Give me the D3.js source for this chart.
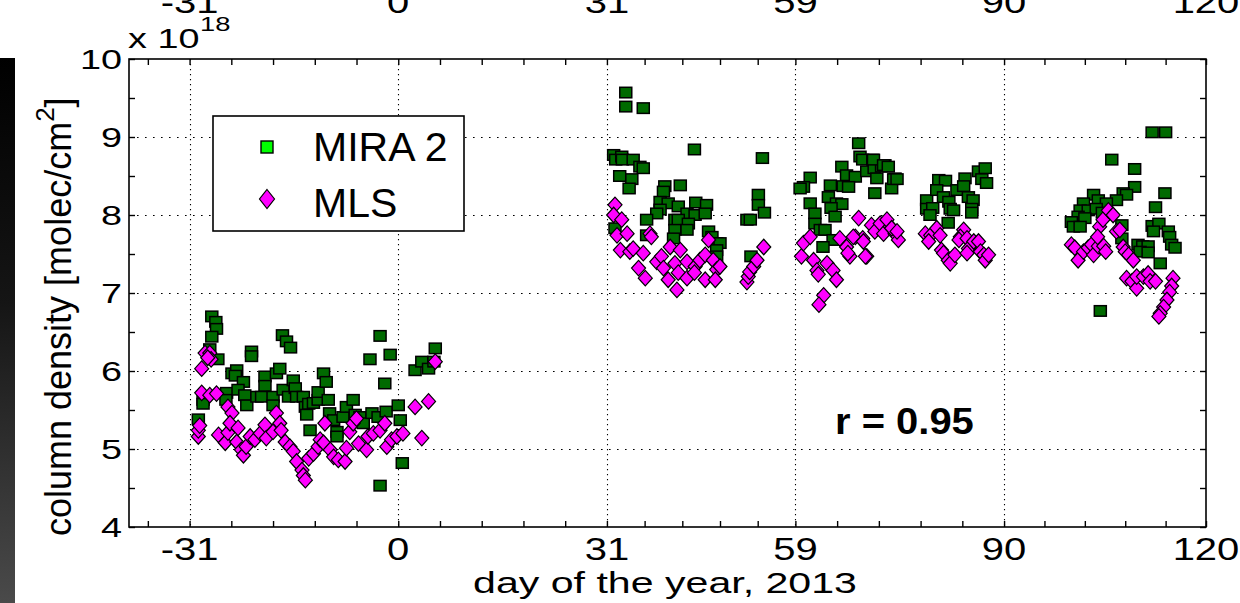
<!DOCTYPE html>
<html>
<head>
<meta charset="utf-8">
<script src="https://cdn.jsdelivr.net/npm/d3@7"></script>
<style>
  body { margin: 0; background: #fff; }
  svg { display: block; }
  text { font-family: "Liberation Sans", Arial, Helvetica, sans-serif; fill: #000; }
</style>
</head>
<body>
<svg id="chart" width="1240" height="603"></svg>
<script>
// ---- tick values ----
const majorDays = [-31, 0, 31, 59, 90, 120];
const minorDays = [-37.2, -24.8, -18.6, -12.4, -6.2, 6.2, 12.4, 18.6, 24.8,
                   36.6, 42.2, 47.8, 53.4, 65.2, 71.4, 77.6, 83.8, 96, 102, 108, 114];
const yMajor = [4, 5, 6, 7, 8, 9, 10];
const yMinor = [4.5, 5.5, 6.5, 7.5, 8.5, 9.5];
const gridDays = [-31, 0, 31, 59, 90];
const gridVals = [5, 6, 7, 8, 9];
const seriesNames = ["MIRA 2", "MLS"];
const correlationText = "r = 0.95";

// ---- column density (x 10^18 molec/cm^2) by day of year ----
const miraPoints = [
  [-29.7,5.38],[-27.7,6.70],[-27.1,6.63],[-27.0,6.54],[-27.7,6.44],[-28.0,6.28],[-26.8,6.15],[-29.0,5.63],
  [-29.0,5.58],[-25.5,5.72],[-25.6,5.63],[-24.7,5.97],[-24.0,6.01],[-24.2,5.94],[-23.0,5.86],[-23.8,5.76],
  [-22.8,5.69],[-22.5,5.56],[-21.8,6.25],[-21.8,6.19],[-21.0,5.67],[-20.3,5.67],[-19.8,5.93],[-19.8,5.81],
  [-18.6,5.67],[-18.6,5.56],[-18.1,5.97],[-17.6,6.03],[-17.2,6.46],[-16.6,6.38],[-16.0,6.30],[-17.1,5.76],
  [-16.3,5.67],[-15.6,5.88],[-15.3,5.78],[-15.1,5.67],[-14.1,5.67],[-13.8,5.54],[-13.6,5.44],[-13.1,5.24],
  [-13.3,5.58],[-12.6,5.59],[-11.9,5.63],[-11.9,5.73],[-11.1,5.97],[-10.7,5.86],[-10.4,5.63],[-10.2,5.46],
  [-9.6,5.37],[-9.1,5.22],[-9.1,5.16],[-8.2,5.41],[-7.7,5.54],[-6.7,5.63],[-6.4,5.44],[-5.7,5.41],
  [-5.2,5.33],[-4.2,6.15],[-3.9,5.46],[-2.7,6.45],[-3.0,5.41],[-2.0,5.84],[-1.8,5.48],[-1.2,6.21],
  [-2.7,4.53],[0.0,5.56],[0.3,5.37],[0.6,4.82],[2.5,6.01],[3.5,6.12],[4.5,6.03],[5.5,6.29],[5.3,6.12],
  [33.8,9.57],[33.8,9.39],[36.4,9.37],[32.0,8.77],[32.3,8.71],[33.2,8.75],[33.3,8.71],[34.9,8.71],
  [35.9,8.62],[36.4,8.60],[32.9,8.50],[34.7,8.46],[34.3,8.34],[32.2,7.83],[44.0,8.84],[54.1,8.73],
  [39.6,8.37],[41.9,8.38],[39.4,8.30],[38.9,8.17],[40.1,8.15],[38.9,8.07],[38.4,8.02],[41.6,8.11],
  [44.2,8.16],[45.8,8.13],[42.9,8.02],[44.1,8.00],[45.6,8.02],[36.9,7.94],[41.1,7.94],[41.6,7.94],
  [43.1,7.89],[41.1,7.81],[42.9,7.81],[36.9,7.74],[40.9,7.70],[46.1,7.79],[46.6,7.72],[47.3,7.64],
  [47.8,7.64],[47.3,7.55],[47.3,7.47],[51.8,7.94],[52.3,7.94],[53.5,8.26],[53.5,8.13],[54.4,8.03],[52.4,7.47],
  [68.4,8.92],[68.6,8.75],[69.0,8.71],[70.5,8.71],[65.9,8.62],[66.6,8.51],[67.9,8.49],[69.6,8.56],
  [70.7,8.60],[71.8,8.62],[72.3,8.64],[71.1,8.47],[73.8,8.47],[73.3,8.34],[70.8,8.28],[61.2,8.48],
  [60.2,8.36],[59.7,8.34],[64.2,8.38],[66.1,8.37],[66.9,8.36],[61.2,8.15],[63.9,8.23],[65.1,8.15],
  [65.9,8.14],[61.9,8.02],[64.3,8.09],[64.9,7.98],[61.9,7.89],[62.7,7.81],[63.4,7.81],[64.6,7.68],
  [63.1,7.59],[70.6,8.71],[72.1,8.64],[72.8,8.62],[73.6,8.46],[74.1,8.46],
  [78.5,8.19],[78.5,8.08],[79.4,8.09],[79.0,8.00],[80.3,8.45],[81.3,8.44],[80.0,8.32],[81.0,8.23],
  [81.8,8.17],[82.0,8.08],[82.5,8.06],[81.7,7.90],[83.0,8.32],[84.2,8.47],[84.0,8.37],[84.7,8.23],
  [85.4,8.19],[85.2,8.08],[85.2,8.03],[86.2,8.56],[87.2,8.60],[86.7,8.46],[87.4,8.41],
  [112.0,9.06],[114.0,9.06],[106.0,8.71],[109.4,8.59],[109.4,8.36],[113.9,8.28],[107.7,8.28],[108.2,8.26],
  [106.7,8.19],[103.3,8.26],[104.0,8.19],[105.2,8.15],[101.8,8.15],[101.3,8.06],[102.5,8.06],[103.7,8.08],
  [104.6,8.03],[101.0,7.98],[102.0,7.96],[100.0,7.91],[100.3,7.85],[101.3,7.85],[107.5,7.87],[107.5,7.70],
  [112.5,8.10],[112.0,7.86],[113.0,7.89],[112.2,7.79],[114.4,7.79],[114.6,7.72],[114.9,7.62],[115.4,7.58],
  [109.9,7.62],[110.6,7.60],[111.4,7.60],[110.2,7.53],[111.4,7.52],[113.2,7.38],[104.3,6.77]
];

const mlsPoints = [
  [-29.7,5.16],[-29.7,5.24],[-29.5,5.30],[-29.2,6.03],[-28.7,6.23],[-28.0,6.23],[-27.8,6.15],[-28.3,6.17],
  [-29.2,5.72],[-28.0,5.69],[-27.0,5.71],[-26.7,5.18],[-25.7,5.08],[-25.3,5.21],[-25.3,5.54],[-24.7,5.46],
  [-25.0,5.33],[-24.0,5.09],[-23.8,5.27],[-23.3,4.99],[-23.0,4.92],[-22.6,5.03],[-22.0,5.16],[-21.3,5.12],
  [-20.5,5.20],[-19.8,5.31],[-19.6,5.14],[-18.6,5.22],[-18.1,5.46],[-17.6,5.33],[-17.4,5.24],[-16.8,5.09],
  [-16.1,5.03],[-15.6,4.97],[-15.1,4.84],[-14.3,4.73],[-14.1,4.66],[-13.8,4.60],[-13.3,4.88],[-12.6,4.94],
  [-11.9,5.03],[-11.6,5.12],[-11.1,5.08],[-10.9,5.33],[-10.1,4.99],[-9.6,4.90],[-8.9,4.86],[-7.9,4.84],
  [-7.7,5.01],[-7.2,5.22],[-6.7,5.33],[-6.2,5.39],[-5.9,5.07],[-4.7,4.99],[-4.5,5.16],[-3.7,5.20],
  [-2.7,5.24],[-2.0,5.33],[-1.7,5.03],[-1.0,5.12],[-0.2,5.16],[0.7,5.20],[2.5,5.54],[3.5,5.14],
  [4.5,5.61],[5.5,6.12],
  [32.2,8.13],[32.0,8.00],[33.2,7.94],[32.5,7.74],[34.0,7.76],[33.0,7.55],[34.4,7.53],[34.9,7.57],
  [36.4,7.51],[35.7,7.32],[36.7,7.19],[37.4,7.76],[37.6,7.72],[38.4,7.40],[39.1,7.47],[39.4,7.32],
  [40.1,7.17],[41.4,7.04],[40.4,7.59],[41.9,7.55],[41.1,7.38],[41.6,7.26],[42.9,7.40],[42.9,7.19],
  [44.1,7.34],[44.0,7.26],[45.6,7.17],[44.8,7.42],[46.1,7.68],[45.6,7.49],[46.8,7.42],[47.3,7.30],
  [47.8,7.34],[47.1,7.17],[51.8,7.14],[52.0,7.21],[52.2,7.27],[52.8,7.34],[53.3,7.42],[54.3,7.59],
  [59.9,7.47],[60.2,7.64],[61.2,7.72],[61.7,7.42],[62.2,7.29],[62.4,7.24],[63.2,6.97],[62.5,6.85],
  [63.7,7.38],[64.6,7.29],[65.1,7.17],[65.6,7.70],[66.6,7.59],[67.1,7.47],[67.9,7.72],[68.4,7.96],
  [69.0,7.70],[69.6,7.47],[70.3,7.87],[70.8,7.79],[71.6,7.89],[72.1,7.76],[73.1,7.85],[73.8,7.76],
  [74.3,7.68],[67.6,7.72],[69.1,7.66],[69.4,7.47],[72.6,7.94],[73.3,7.83],[74.1,7.79],[66.8,7.51],
  [78.3,7.76],[79.1,7.74],[78.8,7.66],[80.0,7.83],[80.5,7.74],[80.7,7.55],[81.0,7.51],[81.7,7.42],
  [82.0,7.38],[82.7,7.49],[84.0,7.81],[83.5,7.72],[83.3,7.68],[84.5,7.70],[84.7,7.57],[84.5,7.51],
  [85.5,7.66],[86.2,7.66],[86.5,7.53],[87.0,7.49],[87.2,7.42],[87.7,7.49],
  [100.0,7.62],[100.5,7.58],[101.0,7.42],[101.8,7.53],[102.5,7.58],[103.0,7.62],[103.3,7.49],[104.0,7.60],
  [104.2,7.85],[103.9,7.72],[104.8,7.60],[105.1,7.53],[104.7,7.94],[105.5,8.06],[106.2,8.00],[106.7,7.79],
  [107.2,7.81],[107.7,7.59],[108.0,7.53],[108.5,7.49],[109.2,7.42],[108.2,7.19],[109.0,7.15],[109.7,7.06],
  [109.7,7.21],[110.7,7.21],[111.4,7.25],[111.7,7.15],[112.5,7.15],[115.1,7.19],[114.9,7.09],[114.6,7.01],
  [114.2,6.91],[113.7,6.82],[113.2,6.74],[113.0,6.70]
];

// ---- layout ----
const svg = d3.select("#chart");
const plot = { left: 129, right: 1206, top: 59, bottom: 527 };

const x = d3.scaleLinear().domain([-40, 120]).range([plot.left, plot.right]);
const y = d3.scaleLinear().domain([4, 10]).range([plot.bottom, plot.top]);

// text drawn with a horizontal stretch factor
function label(parent, px, py, str, size, sx, anchor, weight) {
  return parent.append("text")
    .attr("transform", `translate(${px},${py}) scale(${sx},1)`)
    .attr("text-anchor", anchor || "start")
    .attr("font-size", size)
    .attr("font-weight", weight || "normal")
    .text(str);
}

// dark strip at the left edge
const defs = svg.append("defs");
const grad = defs.append("linearGradient").attr("id", "edge").attr("x1", 0).attr("y1", 0).attr("x2", 0).attr("y2", 1);
grad.append("stop").attr("offset", "0%").attr("stop-color", "#000");
grad.append("stop").attr("offset", "45%").attr("stop-color", "#151515");
grad.append("stop").attr("offset", "100%").attr("stop-color", "#4a4a4a");
svg.append("rect").attr("x", 0).attr("y", 58).attr("width", 15).attr("height", 545).attr("fill", "url(#edge)");

// tick labels of the panel above, cut by the top edge
majorDays.forEach(d => label(svg, x(d), 13, String(d), 32, 1.25, "middle"));

// ---- grid ----
const grid = svg.append("g").attr("stroke", "#000").attr("stroke-width", 1.1);
grid.selectAll("line.gx").data(gridDays).join("line")
  .attr("x1", d => Math.round(x(d)) + 0.5).attr("x2", d => Math.round(x(d)) + 0.5)
  .attr("y1", plot.top).attr("y2", plot.bottom)
  .attr("stroke-dasharray", "1.3,3.7");
grid.selectAll("line.gy").data(gridVals).join("line")
  .attr("x1", plot.left).attr("x2", plot.right)
  .attr("y1", d => Math.round(y(d)) + 0.5).attr("y2", d => Math.round(y(d)) + 0.5)
  .attr("stroke-dasharray", "1.6,6.4");

// ---- axes (ticks point inward, mirrored on top and right) ----
function tickAxis(axisFn, scale, values, size, tr) {
  const g = svg.append("g").attr("transform", tr)
    .call(axisFn(scale).tickValues(values).tickSize(size).tickSizeOuter(0).tickFormat(""));
  g.select(".domain").remove();
  g.selectAll(".tick line").attr("stroke", "#000").attr("stroke-width", 1.4);
  return g;
}
const allDays = majorDays.concat(minorDays);
const allVals = yMajor.concat(yMinor);
tickAxis(d3.axisBottom, x, allDays, -6, `translate(0,${plot.bottom})`);
tickAxis(d3.axisTop, x, allDays, -6, `translate(0,${plot.top})`);
tickAxis(d3.axisLeft, y, allVals, -6, `translate(${plot.left},0)`);
tickAxis(d3.axisRight, y, allVals, -6, `translate(${plot.right},0)`);

// tick labels
const xLab = svg.append("g");
majorDays.forEach(d => label(xLab, x(d), 560, String(d), 32, 1.25, "middle"));
const yLab = svg.append("g");
yMajor.forEach(v => label(yLab, 122, y(v) + 10, String(v), 27, 1.4, "end"));

// exponent
label(svg, 128, 48, "x 10", 28, 1.35, "start");
label(svg, 200, 31, "18", 21, 1.3, "start");

// ---- markers ----
const miraG = svg.append("g");
miraG.selectAll("rect").data(miraPoints).join("rect")
  .attr("x", d => x(d[0]) - 6).attr("y", d => y(d[1]) - 5.25)
  .attr("width", 12).attr("height", 10.5)
  .attr("fill", "#006a00").attr("stroke", "#000").attr("stroke-width", 1.5);

const diamond = (w, h) => `M0,${-h / 2}L${w / 2},0L0,${h / 2}L${-w / 2},0Z`;
const mlsG = svg.append("g");
mlsG.selectAll("path").data(mlsPoints).join("path")
  .attr("transform", d => `translate(${x(d[0])},${y(d[1])})`)
  .attr("d", diamond(14, 15.5))
  .attr("fill", "#ff00ff").attr("stroke", "#000").attr("stroke-width", 1.2);

// ---- frame ----
svg.append("rect")
  .attr("x", plot.left).attr("y", plot.top)
  .attr("width", plot.right - plot.left).attr("height", plot.bottom - plot.top)
  .attr("fill", "none").attr("stroke", "#000").attr("stroke-width", 1.6);

// ---- legend ----
const leg = svg.append("g");
leg.append("rect").attr("x", 213).attr("y", 116).attr("width", 251).attr("height", 115)
  .attr("fill", "#fff").attr("stroke", "#000").attr("stroke-width", 1.6);
leg.append("rect").attr("x", 261).attr("y", 141).attr("width", 12).attr("height", 12)
  .attr("fill", "#00ff00").attr("stroke", "#000").attr("stroke-width", 1.4);
leg.append("path").attr("transform", "translate(267,199)").attr("d", diamond(15, 19))
  .attr("fill", "#ff00ff").attr("stroke", "#000").attr("stroke-width", 1.2);
label(leg, 313, 161, seriesNames[0], 41, 1.0, "start");
label(leg, 313, 217, seriesNames[1], 41, 1.0, "start");

// correlation note
label(svg, 835, 434, correlationText, 37, 1.08, "start", "bold");

// axis titles
label(svg, 665, 593, "day of the year, 2013", 30, 1.37, "middle");
const yt = svg.append("text")
  .attr("transform", "translate(71,536) rotate(-90)")
  .attr("font-size", 36);
yt.append("tspan").text("column density [molec/cm");
yt.append("tspan").attr("font-size", 26).attr("dy", -17).text("2");
yt.append("tspan").attr("dy", 17).text("]");
</script>
</body>
</html>
